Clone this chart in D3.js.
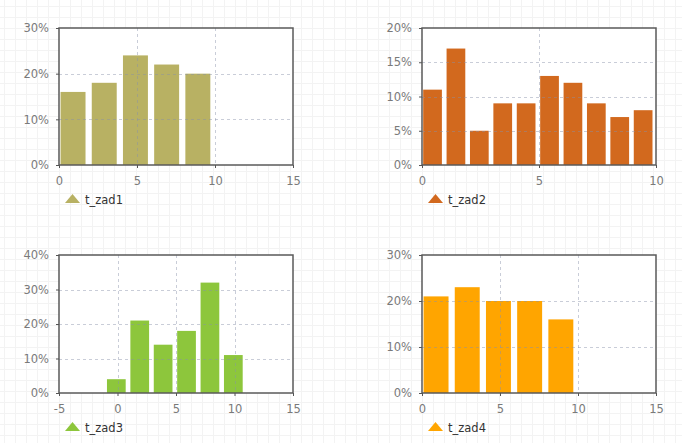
<!DOCTYPE html>
<html><head><meta charset="utf-8">
<script src="https://cdn.jsdelivr.net/npm/d3@7"></script>
<style>body{margin:0;background:#fff}svg{display:block}</style>
</head><body><svg id="c" width="682" height="443"></svg>
<script>
// Data
const names = ["t_zad1", "t_zad2", "t_zad3", "t_zad4"];
const colors = ["#b8b163", "#d2691e", "#8dc63c", "#ffa500"];
const binStarts1 = [0, 2, 4, 6, 8];
const values1 = [16, 18, 24, 22, 20];
const binStarts2 = [0, 1, 2, 3, 4, 5, 6, 7, 8, 9];
const values2 = [11, 17, 5, 9, 9, 13, 12, 9, 7, 8];
const binStarts3 = [-1, 1, 3, 5, 7, 9];
const values3 = [4, 21, 14, 18, 32, 11];
const binStarts4 = [0, 2, 4, 6, 8];
const values4 = [21, 23, 20, 20, 16];
const binWidths = [2, 1, 2, 2];
const xDomains = [[0, 15], [0, 10], [-5, 15], [0, 15]];
const xTickVals = [[0, 5, 10, 15], [0, 5, 10], [-5, 0, 5, 10, 15], [0, 5, 10, 15]];
const yMaxes = [30, 20, 40, 30];
const yTickVals = [[0, 10, 20, 30], [0, 5, 10, 15, 20], [0, 10, 20, 30, 40], [0, 10, 20, 30]];

const FONT = "DejaVu Sans, Verdana, sans-serif";
const svg = d3.select("#c");
// faint background grid
const bg = svg.append("g");
for (let x = 4; x < 682; x += 11) bg.append("line").attr("x1", x + .5).attr("x2", x + .5).attr("y1", 0).attr("y2", 443).attr("stroke", "#f3f3f3");
for (let y = 6; y < 443; y += 11) bg.append("line").attr("y1", y + .5).attr("y2", y + .5).attr("x1", 0).attr("x2", 682).attr("stroke", "#f3f3f3");

const panels = [
  {starts: binStarts1, vals: values1, box: [59, 293, 28, 165]},
  {starts: binStarts2, vals: values2, box: [422, 656, 28, 165]},
  {starts: binStarts3, vals: values3, box: [59, 293, 255, 393]},
  {starts: binStarts4, vals: values4, box: [422, 656, 255, 393]}
];

panels.forEach((p, i) => {
  const [x0, x1, y0, y1] = p.box;
  const x = d3.scaleLinear().domain(xDomains[i]).range([x0, x1]);
  const y = d3.scaleLinear().domain([0, yMaxes[i]]).range([y1, y0]);
  const g = svg.append("g");
  g.append("rect").attr("x", x0).attr("y", y0).attr("width", x1 - x0).attr("height", y1 - y0).attr("fill", "#fff");
  const w = binWidths[i];
  g.selectAll("rect.bar").data(p.starts.map((s, k) => ({s, v: p.vals[k]}))).join("rect")
    .attr("class", "bar")
    .attr("x", d => x(d.s + 0.05 * w))
    .attr("width", d => x(d.s + 0.85 * w) - x(d.s + 0.05 * w))
    .attr("y", d => y(d.v)).attr("height", d => y(0) - y(d.v))
    .attr("fill", colors[i]);
  // grid lines
  const xt = xTickVals[i].filter(t => t > xDomains[i][0] && t < xDomains[i][1]);
  const yt = yTickVals[i].filter(t => t > 0 && t < yMaxes[i]);
  g.selectAll("line.gx").data(xt).join("line").attr("class", "gx")
    .attr("x1", d => Math.round(x(d)) + .5).attr("x2", d => Math.round(x(d)) + .5).attr("y1", y0).attr("y2", y1)
    .attr("stroke", "#8890a8").attr("stroke-opacity", 0.45).attr("stroke-dasharray", "3,3");
  g.selectAll("line.gy").data(yt).join("line").attr("class", "gy")
    .attr("y1", d => Math.round(y(d)) + .5).attr("y2", d => Math.round(y(d)) + .5).attr("x1", x0).attr("x2", x1)
    .attr("stroke", "#8890a8").attr("stroke-opacity", 0.45).attr("stroke-dasharray", "3,3");
  // frame
  g.append("rect").attr("x", x0).attr("y", y0).attr("width", x1 - x0).attr("height", y1 - y0)
    .attr("fill", "none").attr("stroke", "#5a5a5a").attr("stroke-width", 1.5);
  // axes
  const ax = g.append("g").attr("transform", `translate(0,${y1})`)
    .call(d3.axisBottom(x).tickValues(xTickVals[i]).tickSize(3).tickPadding(9).tickFormat(d => String(d)));
  const ay = g.append("g").attr("transform", `translate(${x0},0)`)
    .call(d3.axisLeft(y).tickValues(yTickVals[i]).tickSize(3).tickPadding(7).tickFormat(d => d + "%"));
  [ax, ay].forEach(a => {
    a.select(".domain").remove();
    a.selectAll(".tick line").attr("stroke", "#555");
    a.selectAll("text").attr("fill", "#7a7a7a").style("font-family", FONT).style("font-size", "11.5px");
  });
  // legend
  const lx = i % 2 === 0 ? 65 : 428;
  const ly = i < 2 ? 199 : 427;
  g.append("path").attr("d", `M${lx},${ly + 4}L${lx + 15},${ly + 4}L${lx + 7.5},${ly - 5}Z`).attr("fill", colors[i]);
  g.append("text").attr("x", lx + 20).attr("y", ly + 4.5).text(names[i])
    .attr("fill", "#333").style("font-family", FONT).style("font-size", "11.5px");
});
</script></body></html>
